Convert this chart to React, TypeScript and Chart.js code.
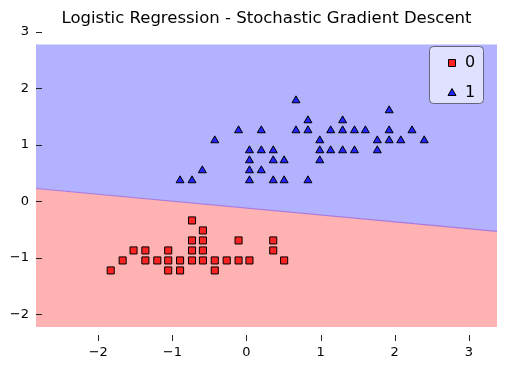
import React, { useEffect, useRef } from "react";
import { Chart, registerables } from "chart.js";

Chart.register(...registerables);

const titleText = "Logistic Regression - Stochastic Gradient Descent";
const xTicks = [-2, -1, 0, 1, 2, 3];
const yTicks = [-2, -1, 0, 1, 2, 3];
const xRange = [-2.84, 3.38];
const yRange = [-2.47, 3.0];
const regionBottom = -2.22;
const regionTop = 2.78;
const boundaryX = [-2.84, 3.38];
const boundaryY = [0.23, -0.53];
const classLabels = ["0", "1"];

const class0X = [
  -0.735,
  -0.588,
  -0.735, -0.588, -0.107, 0.361,
  -1.524, -1.364, -1.056, -0.735, -0.588, 0.361,
  -1.671, -1.364, -1.203, -1.056, -0.896, -0.735, -0.588, -0.428, -0.267, -0.107, 0.04, 0.508,
  -1.832, -1.056, -0.896, -0.428,
];
const class0Y = [
  -0.336,
  -0.513,
  -0.69, -0.69, -0.69, -0.69,
  -0.867, -0.867, -0.867, -0.867, -0.867, -0.867,
  -1.044, -1.044, -1.044, -1.044, -1.044, -1.044, -1.044, -1.044, -1.044, -1.044, -1.044, -1.044,
  -1.221, -1.221, -1.221, -1.221,
];

const class1X = [
  -0.107, 0.2, -0.428, 0.04, 0.2, 0.361, 0.04, 0.361, 0.04, 0.2, -0.596, -0.896, -0.735, 0.04, 0.361,
  0.668, 1.925, 0.829, 1.297,
  0.668, 0.829, 1.136, 1.297, 1.457, 1.604, 1.925, 2.233,
  0.989, 1.765, 1.925, 2.082, 2.398,
  0.989, 1.136, 1.297, 1.457, 1.765,
  0.508, 0.989,
  0.508, 0.829,
];
const class1Y = [
  1.257, 1.257, 1.08, 0.903, 0.903, 0.903, 0.726, 0.726, 0.549, 0.549, 0.549, 0.372, 0.372, 0.372, 0.372,
  1.788, 1.611, 1.434, 1.434,
  1.257, 1.257, 1.257, 1.257, 1.257, 1.257, 1.257, 1.257,
  1.08, 1.08, 1.08, 1.08, 1.08,
  0.903, 0.903, 0.903, 0.903, 0.903,
  0.726, 0.726,
  0.372, 0.372,
];

const zip = (xs: number[], ys: number[]) => xs.map((x, i) => ({ x, y: ys[i] }));
const fmt = (v: number) => String(v).replace("-", "\u2212");

const tickMarksPlugin = {
  id: "tickMarks",
  afterDraw(chart: any) {
    const { ctx, chartArea, scales } = chart;
    ctx.save();
    ctx.strokeStyle = "#222";
    ctx.lineWidth = 1;
    ctx.beginPath();
    yTicks.forEach((v) => {
      const py = Math.round(scales.y.getPixelForValue(v)) + 0.5;
      ctx.moveTo(chartArea.left, py);
      ctx.lineTo(chartArea.left + 6, py);
    });
    xTicks.forEach((v) => {
      const px = Math.round(scales.x.getPixelForValue(v)) + 0.5;
      ctx.moveTo(px, chartArea.bottom - 6);
      ctx.lineTo(px, chartArea.bottom);
    });
    ctx.stroke();
    ctx.restore();
  },
};

const legendPlugin = {
  id: "customLegend",
  afterDraw(chart: any) {
    const { ctx, chartArea } = chart;
    const w = 54;
    const h = 57;
    const x0 = chartArea.right - 14 - w;
    const y0 = chartArea.top + 14;
    ctx.save();
    ctx.beginPath();
    ctx.roundRect(x0 + 0.5, y0 + 0.5, w, h, 4);
    ctx.fillStyle = "rgba(255,255,255,0.6)";
    ctx.fill();
    ctx.strokeStyle = "rgba(70,70,80,0.75)";
    ctx.lineWidth = 1;
    ctx.stroke();

    const mx = x0 + 23;
    const rows = [y0 + 17, y0 + 47];
    ctx.beginPath();
    ctx.rect(mx - 3.5, rows[0] - 3.5, 7, 7);
    ctx.fillStyle = "rgba(255,0,0,0.85)";
    ctx.fill();
    ctx.strokeStyle = "#000";
    ctx.stroke();
    ctx.beginPath();
    ctx.moveTo(mx, rows[1] - 4.5);
    ctx.lineTo(mx + 4, rows[1] + 2.5);
    ctx.lineTo(mx - 4, rows[1] + 2.5);
    ctx.closePath();
    ctx.fillStyle = "rgba(0,0,255,0.85)";
    ctx.fill();
    ctx.stroke();

    ctx.fillStyle = "#000";
    ctx.font = "16px 'DejaVu Sans'";
    ctx.textBaseline = "middle";
    ctx.textAlign = "left";
    ctx.fillText(classLabels[0], x0 + 36, rows[0]);
    ctx.fillText(classLabels[1], x0 + 36, rows[1]);
    ctx.restore();
  },
};

export default function App() {
  const canvasRef = useRef<HTMLCanvasElement | null>(null);

  useEffect(() => {
    if (!canvasRef.current) return;
    Chart.defaults.font.family = "'DejaVu Sans', sans-serif";
    const boundary = zip(boundaryX, boundaryY);
    const chart = new Chart(canvasRef.current, {
      type: "scatter",
      data: {
        datasets: [
          {
            label: classLabels[0],
            data: zip(class0X, class0Y),
            pointStyle: "rect",
            pointRadius: 5,
            backgroundColor: "rgba(255,0,0,0.8)",
            borderColor: "#000",
            borderWidth: 1,
            order: 0,
          },
          {
            label: classLabels[1],
            data: zip(class1X, class1Y),
            pointStyle: "triangle",
            pointRadius: 4.6,
            backgroundColor: "rgba(0,0,255,0.8)",
            borderColor: "#000",
            borderWidth: 1,
            order: 1,
          },
          {
            type: "line",
            label: "region0",
            data: boundary,
            showLine: true,
            pointRadius: 0,
            borderWidth: 0,
            borderColor: "rgba(0,0,0,0)",
            backgroundColor: "rgb(255,178,178)",
            fill: { value: regionBottom },
            order: 10,
          } as any,
          {
            type: "line",
            label: "region1",
            data: boundary,
            showLine: true,
            pointRadius: 0,
            borderWidth: 1.2,
            borderColor: "rgb(170,120,220)",
            backgroundColor: "rgb(178,178,255)",
            fill: { value: regionTop },
            order: 9,
          } as any,
        ],
      },
      options: {
        animation: false,
        responsive: false,
        layout: { padding: { right: 2, left: 0, top: 0, bottom: 0 } },
        plugins: {
          legend: { display: false },
          tooltip: { enabled: false },
          title: {
            display: true,
            text: titleText,
            fullSize: false,
            color: "#000",
            font: { size: 16.5, weight: "normal" },
            padding: { top: 1, bottom: 3.2 },
          },
        },
        scales: {
          x: {
            type: "linear",
            min: xRange[0],
            max: xRange[1],
            grid: { display: false, drawTicks: false },
            border: { display: false },
            afterBuildTicks: (s: any) => {
              s.ticks = xTicks.map((v) => ({ value: v }));
            },
            afterFit: (s: any) => {
              s.height = 21;
              s.paddingLeft = 0;
              s.paddingRight = 0;
            },
            ticks: {
              color: "#000",
              font: { size: 13 },
              padding: 4,
              callback: (v: any) => fmt(Number(v)),
            },
          },
          y: {
            type: "linear",
            min: yRange[0],
            max: yRange[1],
            grid: { display: false, drawTicks: false },
            border: { display: false },
            afterBuildTicks: (s: any) => {
              s.ticks = yTicks.map((v) => ({ value: v }));
            },
            afterFit: (s: any) => {
              s.width = 28;
              s.paddingTop = 0;
              s.paddingBottom = 0;
            },
            ticks: {
              color: "#000",
              font: { size: 13 },
              padding: 7,
              callback: (v: any) => fmt(Number(v)),
            },
          },
        },
      } as any,
      plugins: [tickMarksPlugin, legendPlugin],
    });
    return () => chart.destroy();
  }, []);

  return (
    <div style={{ width: 495, height: 354 }}>
      <canvas ref={canvasRef} width={495} height={354} style={{ display: "block" }} />
    </div>
  );
}
